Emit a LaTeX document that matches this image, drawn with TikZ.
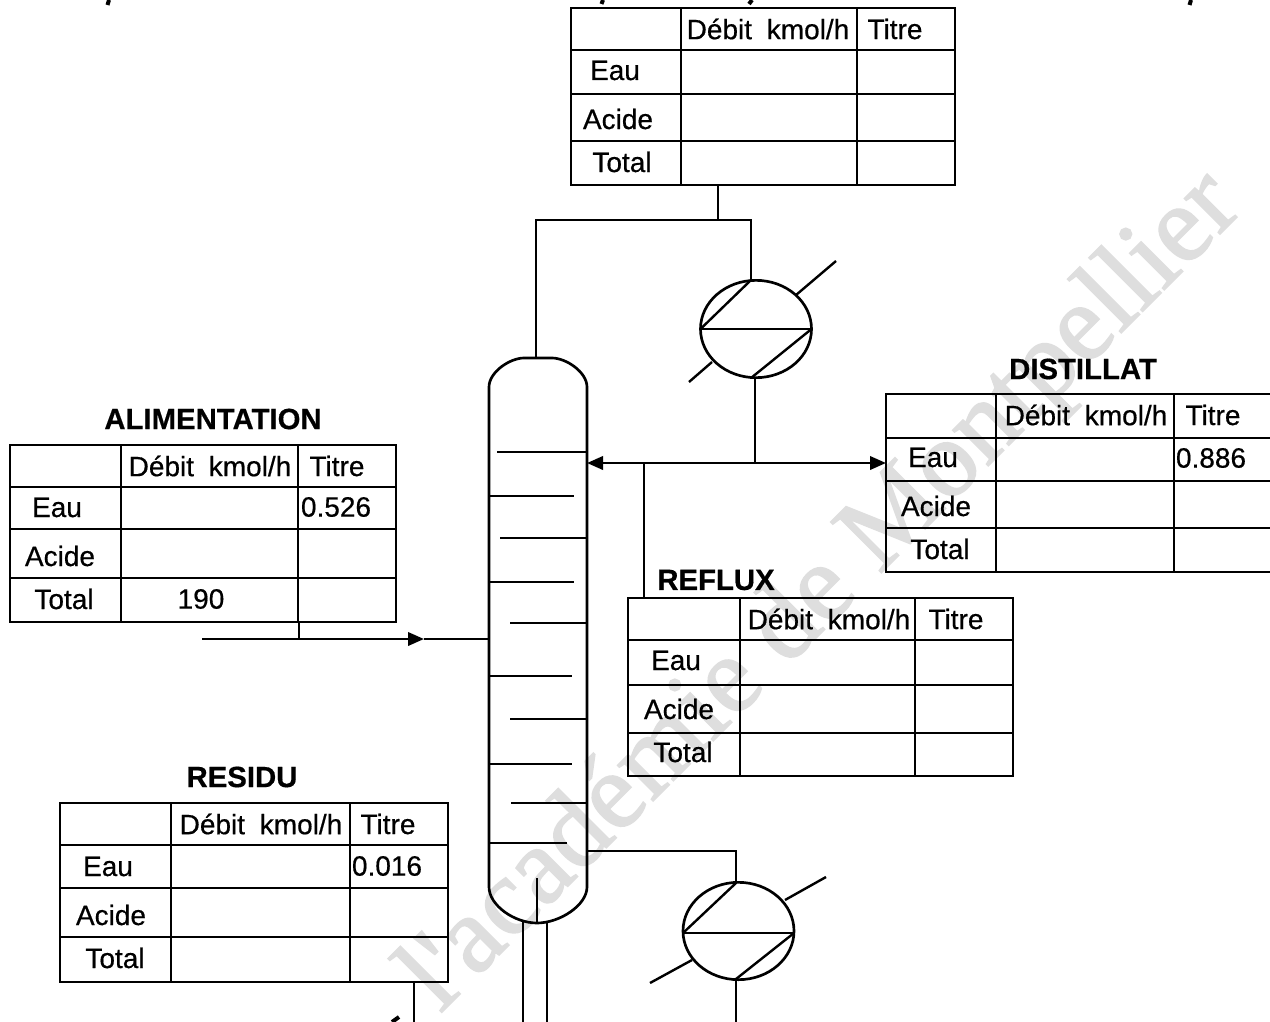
\documentclass[tikz,border=0pt]{standalone}
\usepackage{fontspec}
\setmainfont{Liberation Sans}
\newfontfamily\scanfont[RawFeature={embolden=0.5}]{Liberation Sans}
\newfontfamily\scanbold[RawFeature={embolden=0.5}]{Liberation Sans Bold}
\newfontfamily\wmfont[RawFeature={embolden=1.5}]{Liberation Serif}
\usetikzlibrary{arrows.meta,shapes.geometric}
\definecolor{wmgray}{gray}{0.87}
\tikzset{
  pipe/.style={line width=2pt,draw=black},
  thinpipe/.style={line width=1.8pt,draw=black},
  tabline/.style={line width=1.9pt,draw=black},
  tabframe/.style={draw=black,line width=1.9pt,rectangle,inner sep=0pt,outer sep=0pt,anchor=north west},
  tabtext/.style={inner sep=0pt,font=\scanfont\fontsize{21}{25}\selectfont,text=black},
  tabtitle/.style={inner sep=0pt,font=\scanbold\fontsize{22}{26}\selectfont,text=black},
  exchanger/.style={ellipse,draw=black,line width=2pt,inner sep=0pt,outer sep=0pt,minimum width=83.25pt,minimum height=73pt},
  arrowtip/.style={-{Triangle[length=12pt,width=10pt]}},
  stray/.style={line width=3pt,draw=black},
  watermark/.style={inner sep=0pt,anchor=base west,rotate=45,text=wmgray,font=\wmfont\fontsize{82}{90}\selectfont},
}
% name, x0,x1,x2,x3, y0,y1,y2,y3 then y4
\newcommand{\flowtable}[9]{%
  \def\ftname{#1}\def\ftxa{#2}\def\ftxb{#3}\def\ftxc{#4}\def\ftxd{#5}%
  \def\ftya{#6}\def\ftyb{#7}\def\ftyc{#8}\def\ftyd{#9}\flowtableend}
\newcommand{\flowtableend}[1]{%
  \pgfmathsetlengthmacro{\tabw}{(\ftxd-\ftxa)*0.75pt}%
  \pgfmathsetlengthmacro{\tabh}{(#1-\ftya)*0.75pt}%
  \node[tabframe,minimum width=\tabw,minimum height=\tabh] (\ftname) at (\ftxa,\ftya) {};
  \draw[tabline] (\ftxb,\ftya) -- (\ftxb,#1);
  \draw[tabline] (\ftxc,\ftya) -- (\ftxc,#1);
  \draw[tabline] (\ftxa,\ftyb) -- (\ftxd,\ftyb);
  \draw[tabline] (\ftxa,\ftyc) -- (\ftxd,\ftyc);
  \draw[tabline] (\ftxa,\ftyd) -- (\ftxd,\ftyd);
}
\newcommand{\flowlabels}[3]{%
  \pgfmathsetmacro{\lbx}{#2}%
  \pgfmathsetmacro{\lby}{#3}%
  \node[tabtext] (#1-debit) at ([shift={(199+\lbx,21)}]#1.north west) {Débit\hspace{0.25em} kmol/h};
  \node[tabtext] (#1-titre) at ([shift={(326+\lbx,21)}]#1.north west) {Titre};
  \node[tabtext] (#1-eau) at ([shift={(46+\lbx,62.5+\lby)}]#1.north west) {Eau};
  \node[tabtext] (#1-acide) at ([shift={(49+\lbx,111+\lby)}]#1.north west) {Acide};
  \node[tabtext] (#1-total) at ([shift={(53+\lbx,154+\lby)}]#1.north west) {Total};
}
\begin{document}
\begin{tikzpicture}[x=0.75pt,y=-0.75pt]
\fill[white] (0,0) rectangle (1270,1021);
\useasboundingbox (0,0) rectangle (1270,1021);
\clip (0,0) rectangle (1270,1021);

% watermark
\node[watermark] (wm) at (440,1014) {l'académie de Montpellier};

% clipped remains of the line above the picture
\coordinate (sa1) at (109,0); \coordinate (sa2) at (107.5,5);
\coordinate (sb1) at (603,0); \coordinate (sb2) at (601.5,4);
\coordinate (sc1) at (752,0); \coordinate (sc2) at (749,4);
\coordinate (sd1) at (1191,0); \coordinate (sd2) at (1189.5,5);
\draw[stray] (sa1) -- (sa2);
\draw[stray] (sb1) -- (sb2);
\draw[stray] (sc1) -- (sc2);
\draw[stray] (sd1) -- (sd2);

% tables
\flowtable{top}{571}{681}{857}{955}{8}{50}{94}{141}{185}
\flowlabels{top}{-2}{0}
\flowtable{ali}{10}{121}{298}{396}{445}{487}{529}{578}{622}
\flowlabels{ali}{1}{0}
\flowtable{dist}{886}{996}{1174}{1272}{394}{438}{481}{528}{572}
\flowlabels{dist}{1}{1}
\flowtable{refl}{628}{740}{915}{1013}{598}{640}{685}{733}{776}
\flowlabels{refl}{2}{0}
\flowtable{resi}{60}{171}{350}{448}{803}{845}{888}{937}{982}
\flowlabels{resi}{2}{1}

\node[tabtitle] (ali-t) at (213,419) {ALIMENTATION};
\node[tabtitle] (dist-t) at (1083,369) {DISTILLAT};
\node[tabtitle] (refl-t) at (716,580) {REFLUX};
\node[tabtitle] (resi-t) at (242,777) {RESIDU};

\node[tabtext] (ali-v1) at (336,507) {0.526};
\node[tabtext] (ali-v2) at (201,599) {190};
\node[tabtext] (dist-v) at (1211,458) {0.886};
\node[tabtext] (resi-v) at (387,866) {0.016};

% column
\coordinate (coltop) at (536,358);
\coordinate (colfeed) at (490,639);
\coordinate (colrefl) at (587,463);
\coordinate (colbot) at (586,851);
\coordinate (pipeL) at (523,921);
\coordinate (pipeR) at (547,921);
\coordinate (inner1) at (537,878);
\coordinate (inner2) at (537,923);
\draw[pipe,line join=round]
  (489,887) -- (489,387)
  .. controls (489,372) and (510,358) .. (524,358)
  -- (552,358)
  .. controls (566,358) and (587,372) .. (587,387)
  -- (587,887)
  .. controls (587,905) and (560,923) .. (537,923)
  .. controls (514,923) and (489,905) .. (489,887) -- cycle;
\foreach \yy/\xa/\xb in {452/497/586,496/490/574,538/500/586,582/490/574,623/510/586,676/490/572,719/510/586,764/490/572,803/511/586,843/489/567}
  \draw[thinpipe] (\xa,\yy) -- (\xb,\yy);
\draw[thinpipe] (inner1) -- (inner2);
\coordinate (pipeLb) at (523,1022);
\coordinate (pipeRb) at (547,1022);
\draw[pipe] (pipeL) -- (pipeLb);
\draw[pipe] (pipeR) -- (pipeRb);

% condenser
\node[exchanger] (cond) at (756,329) {};
\coordinate (condin) at (751,280);
\coordinate (condout) at (751,378);
\coordinate (condj) at (755,378);
\draw[thinpipe] (cond.west) -- (cond.east);
\draw[thinpipe] (cond.west) -- (condin);
\draw[thinpipe] (cond.east) -- (condout);
\coordinate (condA) at (796,295); \coordinate (condB) at (836,261);
\coordinate (condC) at (712,362); \coordinate (condD) at (689,382);
\draw[thinpipe] (condA) -- (condB);
\draw[thinpipe] (condC) -- (condD);

% reboiler
\node[exchanger] (reb) at (738.5,931) {};
\coordinate (rebin) at (736,883);
\coordinate (rebout) at (736,979);
\coordinate (rebW) at (683,933);
\coordinate (rebE) at (794,933);
\draw[thinpipe] (rebW) -- (rebE);
\draw[thinpipe] (rebW) -- (rebin);
\draw[thinpipe] (rebE) -- (rebout);
\coordinate (rebA) at (785,900); \coordinate (rebB) at (826,877);
\coordinate (rebC) at (692,960); \coordinate (rebD) at (650,983);
\draw[thinpipe] (rebA) -- (rebB);
\draw[thinpipe] (rebC) -- (rebD);

% overhead
\coordinate (ohL) at (536,220);
\coordinate (ohM) at (718,220);
\coordinate (ohR) at (751,220);
\coordinate (topout) at (718,185);
\draw[pipe] (topout) -- (ohM);
\draw[pipe] (coltop) -- (ohL) -- (ohR) -- (condin);

% reflux / distillate
\coordinate (split) at (755,463);
\coordinate (distin) at (886,463);
\coordinate (reflj) at (644,463);
\coordinate (reflin) at (644,598);
\draw[pipe] (condj) -- (split);
\draw[pipe,arrowtip] (split) -- (colrefl);
\draw[pipe,arrowtip] (split) -- (distin);
\draw[pipe] (reflj) -- (reflin);

% feed
\coordinate (feedin) at (202,639);
\coordinate (feedmid) at (424,639);
\coordinate (alitap) at (299,622);
\coordinate (alij) at (299,639);
\draw[pipe,arrowtip] (feedin) -- (feedmid);
\draw[pipe] (feedmid) -- (colfeed);
\draw[pipe] (alitap) -- (alij);

% bottoms
\coordinate (botj) at (736,851);
\coordinate (rebdown) at (736,1022);
\draw[pipe] (colbot) -- (botj) -- (rebin);
\draw[pipe] (rebout) -- (rebdown);
\coordinate (resitap) at (414,982);
\coordinate (residown) at (414,1022);
\draw[pipe] (resitap) -- (residown);
\coordinate (tipa) at (392,1022);
\coordinate (tipb) at (399,1017);
\draw[stray] (tipa) -- (tipb);
\end{tikzpicture}
\end{document}
